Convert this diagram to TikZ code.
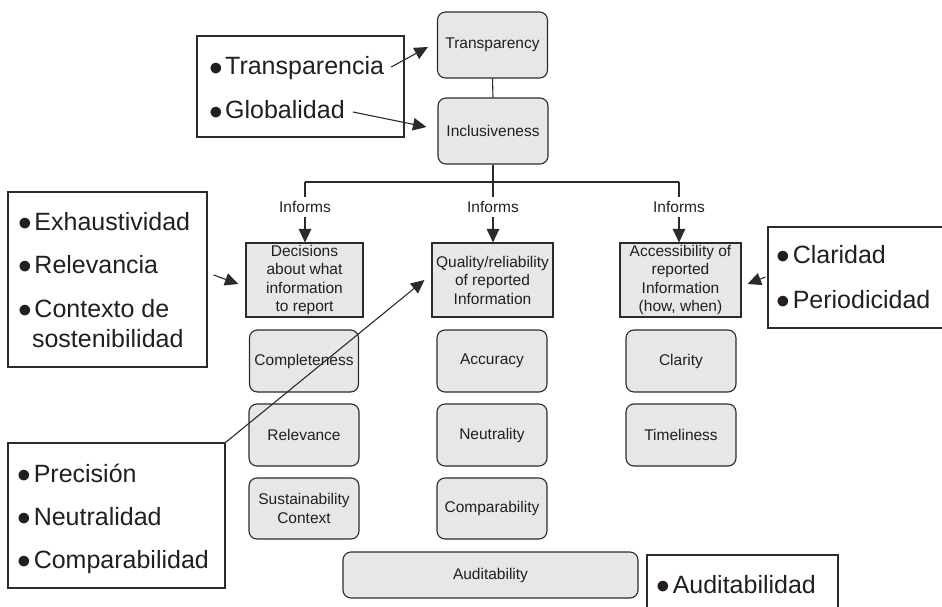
\documentclass[tikz,border=0pt]{standalone}
\usepackage{fontspec}
\setmainfont{Liberation Sans}
\usetikzlibrary{arrows.meta,calc}
\definecolor{boxgray}{HTML}{E6E7E8}
\definecolor{linegray}{HTML}{2B2B2B}
\definecolor{txt}{HTML}{231F20}
\newcommand{\mybul}{{\fontsize{39}{30}\selectfont\raisebox{-6.9pt}{\textbullet}}\hspace{2.3pt}}
\begin{document}
\begin{tikzpicture}[x=1pt,y=-1pt,
  every node/.style={font=\fontsize{15.5}{18.5}\selectfont, text=txt},
  sqbox/.style={draw=linegray, fill=boxgray, line width=1.1pt, align=center, inner sep=0pt},
  rbox/.style={sqbox, rounded corners=8pt},
  listbox/.style={draw=linegray, line width=1.1pt, fill=white, inner sep=0pt},
  item/.style={font=\fontsize{25}{30}\selectfont, anchor=base west, inner sep=0pt, align=left},
  conn/.style={draw=linegray, line width=1.1pt},
  arr/.style={conn, -{Triangle[length=13.5pt,width=12.5pt]}},
  lab/.style={inner xsep=2pt, inner ysep=4pt, anchor=base}
]
\clip (0,0) rectangle (942,607);

% top gray boxes
\node[rbox, minimum width=110pt, minimum height=66pt] (transp) at (492.5,45) {Transparency};
\node[rbox, minimum width=110pt, minimum height=66pt] (incl) at (493,131) {Inclusiveness};

% category boxes
\node[sqbox, minimum width=117pt, minimum height=74pt] (dec) at (304.5,280) {Decisions\\about what\\information\\to report};
\node[sqbox, minimum width=121pt, minimum height=74pt] (qual) at (492.5,280) {Quality/reliability\\of reported\\Information};
\node[sqbox, minimum width=121pt, minimum height=74pt] (acc) at (680.5,280) {Accessibility of\\reported\\Information\\(how, when)};

% principle boxes
\node[rbox, minimum width=109pt, minimum height=62pt] (compl) at (304,361) {Completeness};
\node[rbox, minimum width=110pt, minimum height=62pt] (relev) at (304,435) {Relevance};
\node[rbox, minimum width=110pt, minimum height=61pt] (sust) at (304,508.5) {Sustainability\\Context};
\node[rbox, minimum width=110pt, minimum height=62pt] (accur) at (492,361) {Accuracy};
\node[rbox, minimum width=110pt, minimum height=62pt] (neut) at (492,435) {Neutrality};
\node[rbox, minimum width=110pt, minimum height=61pt] (comp) at (492,508.5) {Comparability};
\node[rbox, minimum width=110pt, minimum height=62pt] (clar) at (681,361) {Clarity};
\node[rbox, minimum width=110pt, minimum height=62pt] (time) at (681,435) {Timeliness};
\node[rbox, minimum width=295pt, minimum height=46pt] (audit) at (490.5,575) {Auditability};

% tree connectors
\coordinate (busL) at (305,182);
\coordinate (busR) at (679,182);
\node[lab] (inf1) at (305,212.7) {Informs};
\node[lab] (inf2) at (493,212.7) {Informs};
\node[lab] (inf3) at (679,212.7) {Informs};
\draw[conn] (transp.south) -- (incl.north);
\draw[conn] (incl.south) -- (incl.south |- busL);
\draw[conn] (busL) -- (busR);
\draw[conn] (busL) -- (inf1.north);
\draw[conn] (incl.south |- busL) -- (inf2.north);
\draw[conn] (busR) -- (inf3.north);
\draw[arr] (inf1.south) -- (inf1.south |- dec.north);
\draw[arr] (inf2.south) -- (inf2.south |- qual.north);
\draw[arr] (inf3.south) -- (inf3.south |- acc.north);

% Spanish list boxes
\node[listbox, minimum width=207pt, minimum height=101pt] (tbox) at (300.5,86.5) {};
\node[item] (itTr) at (209,75) {\mybul Transparencia};
\node[item] (itGl) at (209,119) {\mybul Globalidad};

\node[listbox, minimum width=199pt, minimum height=175pt] (exhbox) at (107.5,279.5) {};
\node[item] (itEx) at (18.3,230) {\mybul Exhaustividad};
\node[item] (itRe) at (18.3,273) {\mybul Relevancia};
\node[item] (itCo) at (18.3,347) {\mybul Contexto de\\\hspace*{13.5pt}sostenibilidad};

\node[listbox, minimum width=217pt, minimum height=145pt] (precbox) at (116.5,515.5) {};
\node[item] (itPr) at (17.6,482) {\mybul Precisión};
\node[item] (itNe) at (17.6,525) {\mybul Neutralidad};
\node[item] (itCm) at (17.6,568) {\mybul Comparabilidad};

\node[listbox, minimum width=192pt, minimum height=101pt] (clarbox) at (864,277.5) {};
\node[item] (itCl) at (776.6,263) {\mybul Claridad};
\node[item] (itPe) at (776.6,308) {\mybul Periodicidad};

\node[listbox, minimum width=191pt, minimum height=85pt] (audbox) at (742.5,597.5) {};
\node[item] (itAu) at (656.6,593) {\mybul Auditabilidad};

% arrows from lists
\draw[arr] ($(itTr.base east)+(7,-8)$) -- ($(transp.west)+(-9,2)$);
\draw[arr] ($(itGl.base east)+(8,-7)$) -- ($(incl.west)+(-11,-4)$);
\draw[arr] ($(exhbox.east)+(6,-4.5)$) -- ($(dec.west)+(-7,4)$);
\draw[arr] ($(clarbox.west)+(-2,-0.5)$) -- ($(acc.east)+(6,4)$);
\draw[arr] (precbox.north east) -- ($(qual.west)+(-7,0)$);
\end{tikzpicture}
\end{document}
